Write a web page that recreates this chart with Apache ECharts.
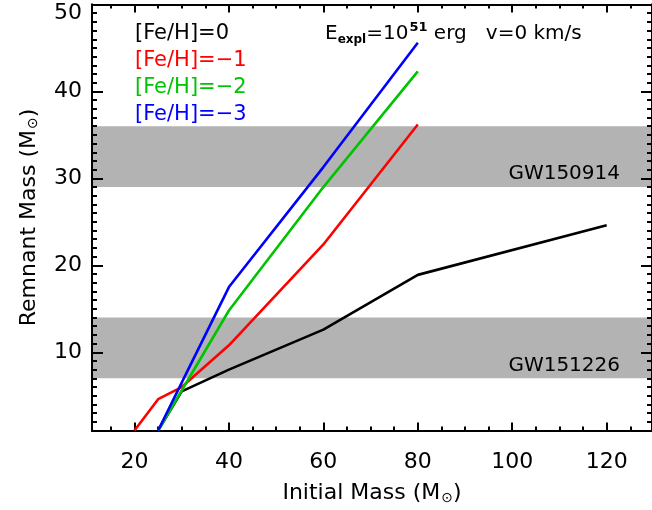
<!DOCTYPE html>
<html><head><meta charset="utf-8">
<script src="https://cdn.jsdelivr.net/npm/echarts@6/dist/echarts.min.js"></script>
<style>html,body{margin:0;padding:0;background:#fff}#c{width:652px;height:510px}</style>
</head><body><div id="c"></div>
<script>
// ---- data ----
const seriesNames = ['[Fe/H]=0', '[Fe/H]=\u22121', '[Fe/H]=\u22122', '[Fe/H]=\u22123'];
const mass_FeH0  = [25, 30, 40, 60, 80, 120];
const rem_FeH0   = [1.0, 5.5, 8.0, 12.6, 18.9, 24.6];
const mass_FeHm1 = [20, 25, 30, 40, 60, 80];
const rem_FeHm1  = [1.0, 4.6, 6.0, 10.8, 22.4, 36.2];
const mass_FeHm2 = [25, 30, 40, 60, 80];
const rem_FeHm2  = [1.0, 5.6, 14.8, 29.0, 42.3];
const mass_FeHm3 = [25, 30, 40, 60, 80];
const rem_FeHm3  = [1.0, 6.5, 17.5, 31.3, 45.6];
const bandNames = ['GW150914', 'GW151226'];
const bandLow   = [29, 7];
const bandHigh  = [36, 14];
const xTickLabels = [20, 40, 60, 80, 100, 120];
const yTickLabels = [10, 20, 30, 40, 50];

// ---- styling / layout ----
const FONT = 'DejaVu Sans';
const colors = ['#000000', '#ff0000', '#00c400', '#0000ff'];
const XMIN = 11, XMAX = 129.6, YMIN = 1, YMAX = 50;
const xMinor = []; for (let v = 15; v <= 125; v += 5) if (v % 20 !== 0) xMinor.push(v);
const yMinor = []; for (let v = 2; v <= 49; v += 1) if (v % 10 !== 0) yMinor.push(v);

function pairs(xs, ys) { return xs.map((x, i) => [x, ys[i]]); }

function xAx(pos, ticks, len, withLabel) {
  return {
    type: 'value', position: pos, min: XMIN, max: XMAX, z: 3,
    axisLine: { show: true, onZero: false, lineStyle: { color: '#000', width: 2 } },
    splitLine: { show: false },
    axisTick: { show: true, inside: true, length: len, customValues: ticks, lineStyle: { color: '#000', width: 2 } },
    axisLabel: withLabel ? { show: true, customValues: xTickLabels, fontSize: 22, fontFamily: FONT, color: '#000', margin: 21 } : { show: false }
  };
}
function yAx(pos, ticks, len, withLabel) {
  return {
    type: 'value', position: pos, min: YMIN, max: YMAX, z: 3,
    axisLine: { show: true, onZero: false, lineStyle: { color: '#000', width: 2 } },
    splitLine: { show: false },
    axisTick: { show: true, inside: true, length: len, customValues: ticks, lineStyle: { color: '#000', width: 2 } },
    axisLabel: withLabel ? {
      show: true, customValues: yTickLabels, fontSize: 22, fontFamily: FONT, color: '#000', margin: 10,
      formatter: v => v === 50 ? '{t|50}' : String(v),
      rich: { t: { fontSize: 22, fontFamily: FONT, color: '#000', padding: [18, 0, 0, 0] } }
    } : { show: false }
  };
}

const nameRich = {
  a: { fontSize: 22, fontFamily: FONT, color: '#000', lineHeight: 30, verticalAlign: 'middle' },
  s: { fontSize: 14, fontFamily: FONT, color: '#000', lineHeight: 30, verticalAlign: 'middle', padding: [9, 0, 0, 1] }
};

const xAxes = [
  xAx('bottom', xTickLabels, 8, true),
  xAx('bottom', xMinor, 4, false),
  xAx('top', xTickLabels, 8, false),
  xAx('top', xMinor, 4, false)
];
Object.assign(xAxes[0], {
  name: '{a|Initial Mass (M}{s|\u2299}{a|)}', nameLocation: 'middle', nameGap: 48,
  nameTextStyle: { rich: nameRich }
});
const yAxes = [
  yAx('left', yTickLabels, 11, true),
  yAx('left', yMinor, 5, false),
  yAx('right', yTickLabels, 11, false),
  yAx('right', yMinor, 5, false)
];
Object.assign(yAxes[0], {
  name: '{a|Remnant Mass (M}{s|\u2299}{a|)}', nameLocation: 'middle', nameGap: 48, nameRotate: 90,
  nameTextStyle: { rich: nameRich }
});

const lineData = [pairs(mass_FeH0, rem_FeH0), pairs(mass_FeHm1, rem_FeHm1), pairs(mass_FeHm2, rem_FeHm2), pairs(mass_FeHm3, rem_FeHm3)];

const series = seriesNames.map((n, i) => ({
  name: n, type: 'line', xAxisIndex: 0, yAxisIndex: 0, data: lineData[i],
  symbol: 'none', showSymbol: false, clip: true, animation: false,
  lineStyle: { color: colors[i], width: 2.6 }, itemStyle: { color: colors[i] }
}));
series.push({
  name: 'bands', type: 'line', data: [], xAxisIndex: 0, yAxisIndex: 0, animation: false,
  markArea: {
    silent: true, animation: false,
    itemStyle: { color: '#b3b3b3' },
    label: { show: true, position: 'insideBottomRight', distance: 5, offset: [-27, 2], fontSize: 20, fontFamily: FONT, color: '#000' },
    data: bandNames.map((n, i) => [{ name: n, yAxis: bandLow[i] }, { yAxis: bandHigh[i] }])
  }
});

const chart = echarts.init(document.getElementById('c'), null, { renderer: 'canvas' });
chart.setOption({
  backgroundColor: '#ffffff',
  animation: false,
  grid: { left: 92, top: 4.5, right: -3.5, bottom: 78.7, containLabel: false },
  xAxis: xAxes,
  yAxis: yAxes,
  legend: {
    orient: 'vertical', left: 130, top: 23, padding: 0, itemGap: 6,
    icon: 'none', itemWidth: 0, itemHeight: 14, selectedMode: false,
    textStyle: { fontSize: 21, fontFamily: FONT },
    data: seriesNames.map((n, i) => ({ name: n, textStyle: { color: colors[i], fontSize: 21, fontFamily: FONT } }))
  },
  title: {
    left: 325, top: 21, padding: 0,
    text: '{e|E}{sub|expl}{e|=10}{sup|51}{e| erg   v=0 km/s}',
    textStyle: { fontWeight: 'normal', fontSize: 20, fontFamily: FONT, rich: {
      e: { fontSize: 20, fontFamily: FONT, fontWeight: 'normal', color: '#000', lineHeight: 26, verticalAlign: 'middle' },
      sub: { fontSize: 12, fontFamily: FONT, color: '#000', fontWeight: 'bold', lineHeight: 26, verticalAlign: 'middle', padding: [12, 0, 0, 0] },
      sup: { fontSize: 13, fontFamily: FONT, color: '#000', fontWeight: 'bold', lineHeight: 26, verticalAlign: 'middle', padding: [0, 0, 12, 1] }
    } }
  },
  series: series
});
</script>
</body></html>
